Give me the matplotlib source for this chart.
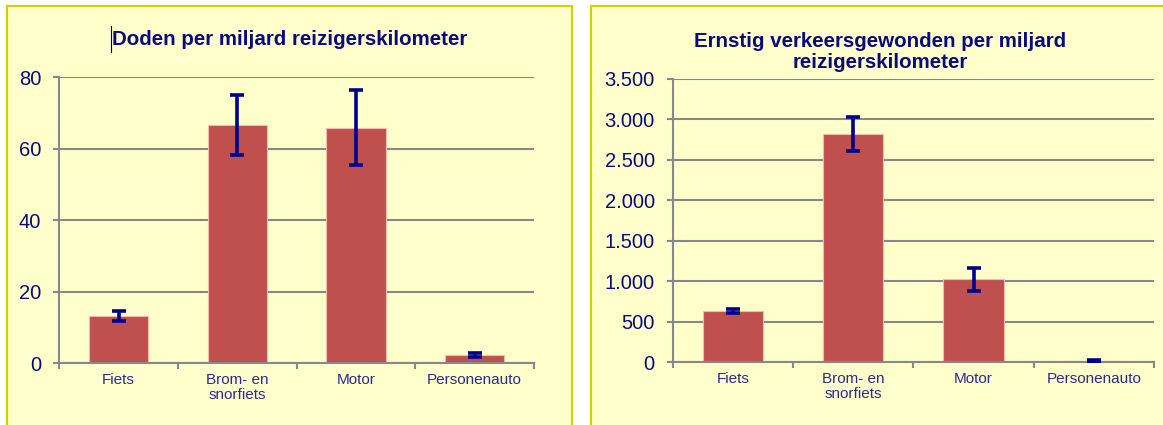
import numpy as np
import matplotlib
matplotlib.use("Agg")
import matplotlib.pyplot as plt
from matplotlib.patches import Rectangle
from matplotlib.lines import Line2D
from matplotlib.ticker import FuncFormatter

plt.rcParams['font.family'] = ['Liberation Sans', 'DejaVu Sans']

# data
categories = ['Fiets', 'Brom- en\nsnorfiets', 'Motor', 'Personenauto']

doden = [13.2, 66.7, 65.9, 2.3]
doden_err = [1.3, 8.3, 10.5, 0.5]

gewonden = [625, 2815, 1022, 14]
gewonden_err = [25, 210, 145, 8]

title_left = 'Doden per miljard reizigerskilometer'
title_right = 'Ernstig verkeersgewonden per miljard\nreizigerskilometer'

BAR = '#C0504D'
ERR = '#00008F'
GRID = '#888888'
NAVY = '#0A0A80'
PANEL = '#FFFFCC'
BORDER = '#D2D200'

W, H = 1163, 425
fig = plt.figure(figsize=(W / 100, H / 100), dpi=100)
fig.patch.set_facecolor('white')

# yellow panels behind each chart
fig.patches.append(Rectangle((7 / W, -0.05), (572 - 7) / W, (H - 6) / H + 0.05,
                             transform=fig.transFigure, facecolor=PANEL,
                             edgecolor=BORDER, linewidth=1.6, zorder=-1))
fig.patches.append(Rectangle((591 / W, -0.05), 0.6, (H - 6) / H + 0.05,
                             transform=fig.transFigure, facecolor=PANEL,
                             edgecolor=BORDER, linewidth=1.6, zorder=-1))


def dutch(v, pos):
    return '{:,.0f}'.format(v).replace(',', '.')


def draw(ax, vals, errs, ymax, step):
    x = np.arange(len(categories))
    ax.set_facecolor('none')
    ax.bar(x, vals, width=0.5, color=BAR, edgecolor='#F2BBAE', linewidth=0.8, zorder=2)
    ax.errorbar(x, vals, yerr=errs, fmt='none', ecolor=ERR, elinewidth=2.6,
                capsize=4.8, capthick=2.6, zorder=3)
    ax.set_xlim(-0.5, len(categories) - 0.5)
    ax.set_ylim(0, ymax)
    ax.set_yticks(np.arange(0, ymax + 1, step))
    ax.yaxis.grid(True, color=GRID, linewidth=1.5, zorder=1)
    ax.set_axisbelow(True)
    for s in ['top', 'right']:
        ax.spines[s].set_visible(False)
    for s in ['left', 'bottom']:
        ax.spines[s].set_color(GRID)
        ax.spines[s].set_linewidth(1.5)
    ax.set_xticks(x)
    ax.set_xticklabels(categories, fontsize=11, color='#2A2A90', linespacing=1.1)
    ax.set_xticks(np.arange(-0.5, len(categories)), minor=True)
    ax.tick_params(axis='x', which='major', length=0, pad=7)
    ax.tick_params(axis='x', which='minor', length=4, width=1.5, color=GRID)
    ax.tick_params(axis='y', length=4, width=1.5, color=GRID, labelsize=14.5,
                   labelcolor=NAVY, pad=9)


ax1 = fig.add_axes([59.3 / W, 61.7 / H, (534 - 59.3) / W, (363.3 - 77.3) / H])
draw(ax1, doden, doden_err, 80, 20)

ax2 = fig.add_axes([672.7 / W, 63 / H, (1154 - 672.7) / W, (362 - 79) / H])
draw(ax2, gewonden, gewonden_err, 3500, 500)
ax2.yaxis.set_major_formatter(FuncFormatter(dutch))

fig.text(290 / W, (H - 45) / H, title_left, ha='center', va='baseline',
         fontsize=14.8, fontweight='bold', color=NAVY)
fig.text(880.5 / W, (H - 68) / H, title_right, ha='center', va='baseline',
         fontsize=14.8, fontweight='bold', color=NAVY, linespacing=1.15)

# text cursor left of the first title
fig.add_artist(Line2D([110.5 / W, 110.5 / W], [(H - 52) / H, (H - 26) / H],
                      transform=fig.transFigure, color='black', linewidth=0.8))

fig.savefig('out.png', dpi=100)
